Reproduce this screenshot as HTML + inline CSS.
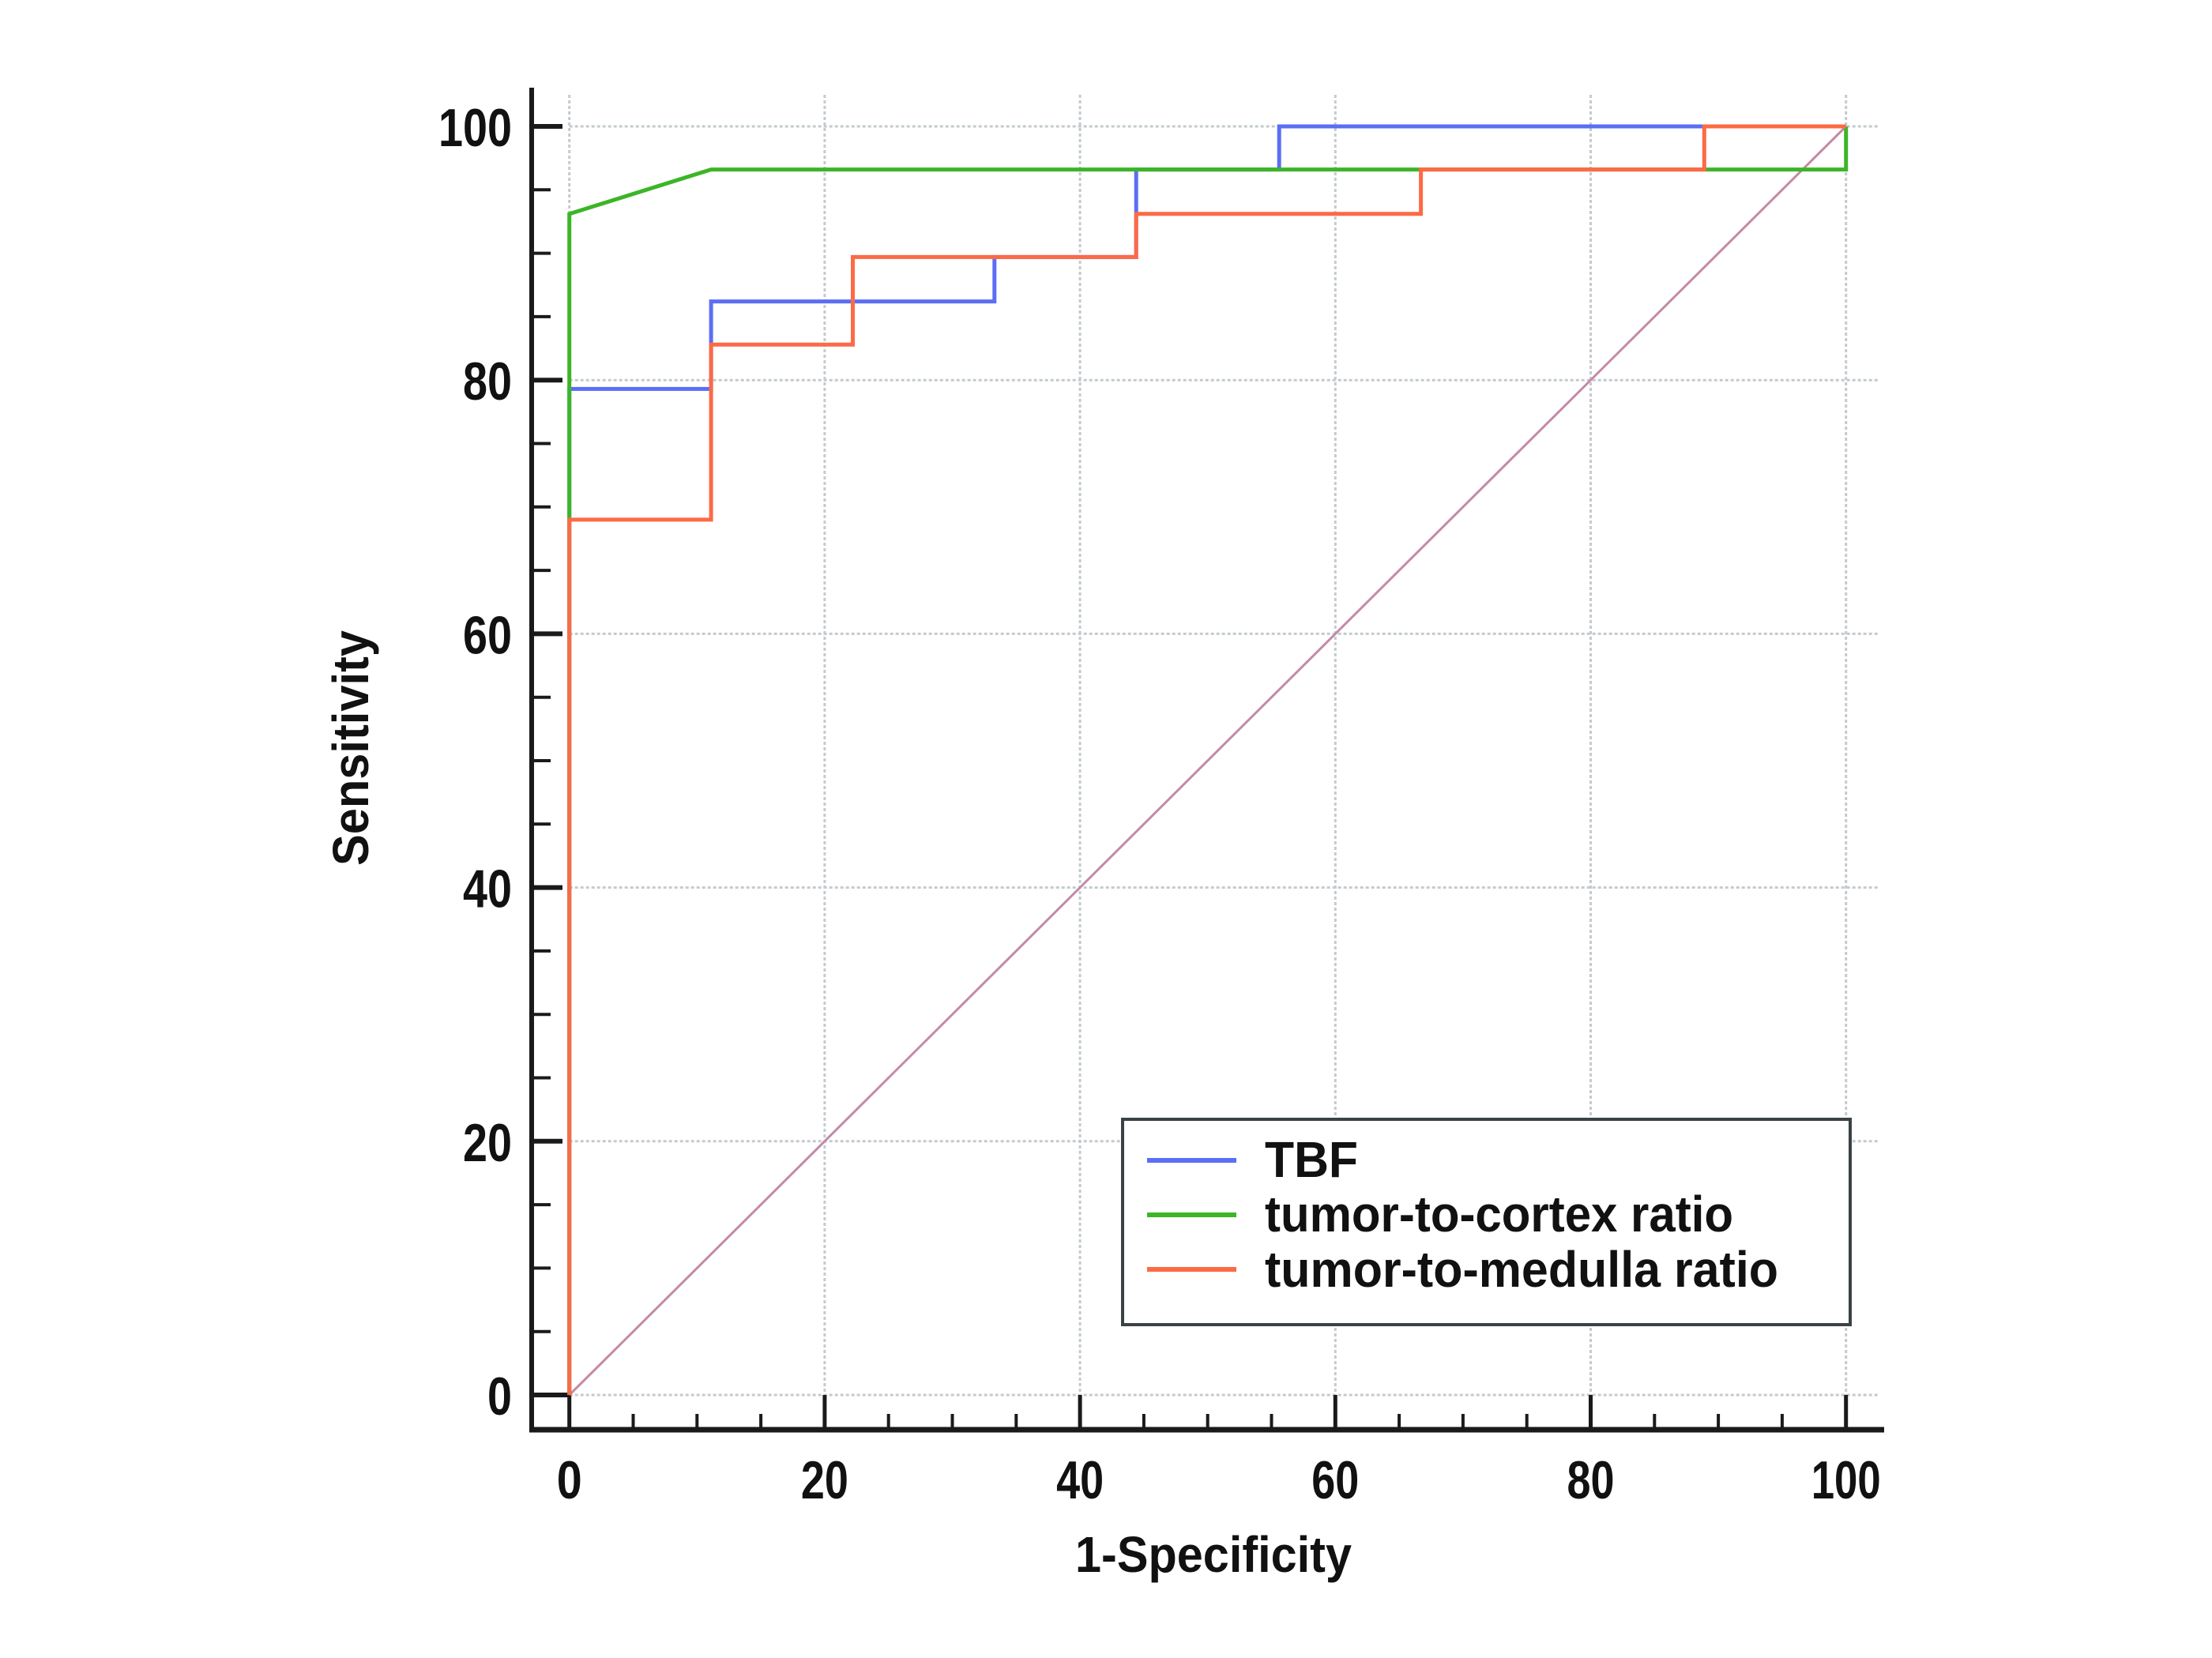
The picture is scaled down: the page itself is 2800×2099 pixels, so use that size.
<!DOCTYPE html>
<html><head><meta charset="utf-8"><style>
html,body{margin:0;padding:0;background:#fff;}
svg{display:block;}
text{font-family:"Liberation Sans",Arial,sans-serif;font-weight:bold;fill:#111;}
</style></head>
<body>
<svg id="chart" width="2800" height="2099" viewBox="0 0 2800 2099" xmlns="http://www.w3.org/2000/svg">
<rect width="2800" height="2099" fill="#fff"/>
<g id="grid"></g>
<g id="axes"></g>
<g id="series"></g>
<text x="0" y="0" font-size="64" text-anchor="middle" textLength="298" lengthAdjust="spacingAndGlyphs" transform="translate(466,947) rotate(-90)">Sensitivity</text>
<text x="1536" y="1990" font-size="64" text-anchor="middle" textLength="350" lengthAdjust="spacingAndGlyphs">1-Specificity</text>
<g>
<rect x="1421" y="1417" width="921" height="260" fill="#fff" stroke="#3a4246" stroke-width="4"/>
<line x1="1452" y1="1469" x2="1565" y2="1469" stroke="#5b6ef5" stroke-width="6"/>
<text x="1601" y="1490" font-size="64" textLength="118" lengthAdjust="spacingAndGlyphs">TBF</text>
<line x1="1452" y1="1538" x2="1565" y2="1538" stroke="#3cb527" stroke-width="6"/>
<text x="1601" y="1559" font-size="64" textLength="593" lengthAdjust="spacingAndGlyphs">tumor-to-cortex ratio</text>
<line x1="1452" y1="1607" x2="1565" y2="1607" stroke="#fc6a45" stroke-width="6"/>
<text x="1601" y="1629" font-size="64" textLength="650" lengthAdjust="spacingAndGlyphs">tumor-to-medulla ratio</text>
</g>
</svg>
<script>
const xTicks = [0, 20, 40, 60, 80, 100];
const yTicks = [0, 20, 40, 60, 80, 100];
const tickLabels = ["0", "20", "40", "60", "80", "100"];
const tbfX = [0, 0, 11.1, 11.1, 33.3, 33.3, 44.4, 44.4, 55.6, 55.6, 100];
const tbfY = [0, 79.3, 79.3, 86.2, 86.2, 89.7, 89.7, 96.6, 96.6, 100, 100];
const cortexX = [0, 0, 11.1, 100, 100];
const cortexY = [0, 93.1, 96.6, 96.6, 100];
const medullaX = [0, 0, 11.1, 11.1, 22.2, 22.2, 44.4, 44.4, 66.7, 66.7, 88.9, 88.9, 100];
const medullaY = [0, 69.0, 69.0, 82.8, 82.8, 89.7, 89.7, 93.1, 93.1, 96.6, 96.6, 100, 100];
const refX = [0, 100];
const refY = [0, 100];

const NS = "http://www.w3.org/2000/svg";
const X0 = 720.7, X1 = 2336.7, Y0 = 1766, Y1 = 160;
function sx(v){ return X0 + (X1 - X0) * v / 100; }
function sy(v){ return Y0 - (Y0 - Y1) * v / 100; }
function mk(tag, attrs, parent){
  const e = document.createElementNS(NS, tag);
  for (const k in attrs) e.setAttribute(k, attrs[k]);
  parent.appendChild(e);
  return e;
}
const grid = document.getElementById('grid');
const axes = document.getElementById('axes');
const series = document.getElementById('series');

xTicks.forEach((t, i) => {
  const g = mk('line', {x1: sx(t), y1: 120, x2: sx(t), y2: Y0, stroke: '#c3cbd0', 'stroke-width': 3, 'stroke-dasharray': '4 3'}, grid);
  
  
  const tk = mk('line', {x1: sx(t), y1: Y0, x2: sx(t), y2: 1810, stroke: '#1a1a1a', 'stroke-width': 5}, axes);
  
  
  const lb = mk('text', {x: sx(t), y: 1897, 'font-size': 68, 'text-anchor': 'middle', textLength: 28 * tickLabels[i].length + 4, lengthAdjust: 'spacingAndGlyphs'}, axes);
  lb.textContent = tickLabels[i];
  
  
});
yTicks.forEach((t, i) => {
  const g = mk('line', {x1: X0, y1: sy(t), x2: 2377, y2: sy(t), stroke: '#c3cbd0', 'stroke-width': 3, 'stroke-dasharray': '4 3'}, grid);
  
  
  const tk = mk('line', {x1: 673, y1: sy(t), x2: (t === 0 ? X0 : 712), y2: sy(t), stroke: '#1a1a1a', 'stroke-width': 6}, axes);
  
  
  const lb = mk('text', {x: 648, y: sy(t) + 25, 'font-size': 68, 'text-anchor': 'end', textLength: 31 * tickLabels[i].length, lengthAdjust: 'spacingAndGlyphs'}, axes);
  lb.textContent = tickLabels[i];
  
  
});
for (let v = 5; v < 100; v += 5) {
  if (v % 20 === 0) continue;
  const a = mk('line', {x1: sx(v), y1: 1790, x2: sx(v), y2: 1810, stroke: '#1a1a1a', 'stroke-width': 4}, axes);
  
  
  const b = mk('line', {x1: 673, y1: sy(v), x2: 697, y2: sy(v), stroke: '#1a1a1a', 'stroke-width': 4}, axes);
  
  
}
const ya = mk('line', {x1: 673, y1: 111, x2: 673, y2: 1813, stroke: '#1a1a1a', 'stroke-width': 6}, axes);


const xa = mk('line', {x1: 670, y1: 1810, x2: 2385, y2: 1810, stroke: '#1a1a1a', 'stroke-width': 7}, axes);



function pts(xs, ys){ return xs.map((x, i) => sx(x).toFixed(1) + ',' + sy(ys[i]).toFixed(1)).join(' '); }
const ref = mk('polyline', {points: pts(refX, refY), fill: 'none', stroke: '#c48aa8', 'stroke-width': 3}, series);


const l1 = mk('polyline', {points: pts(tbfX, tbfY), fill: 'none', stroke: '#5b6ef5', 'stroke-width': 5}, series);


const l2 = mk('polyline', {points: pts(cortexX, cortexY), fill: 'none', stroke: '#3cb527', 'stroke-width': 5}, series);


const l3 = mk('polyline', {points: pts(medullaX, medullaY), fill: 'none', stroke: '#fc6a45', 'stroke-width': 5}, series);


</script>
</body></html>
